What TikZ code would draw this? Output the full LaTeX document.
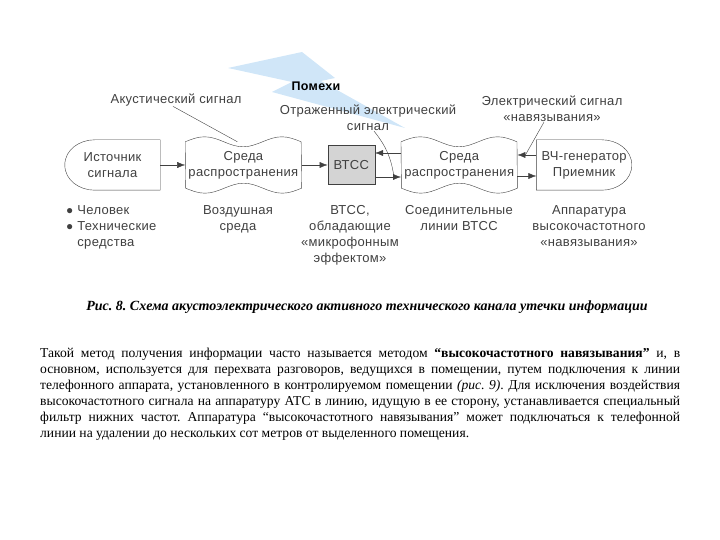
\documentclass[tikz,border=0pt]{standalone}
\usepackage{fontspec}
\setmainfont{Liberation Serif}
\newfontfamily\diagfont[LetterSpace=2.5]{Liberation Sans}
\usepackage{xcolor}
\definecolor{inkgray}{RGB}{64, 64, 64}
\definecolor{vtccgray}{RGB}{212, 212, 212}
\definecolor{boltblue}{RGB}{208, 230, 248}
\usepackage{tikz}
\usetikzlibrary{positioning, arrows.meta}
\frenchspacing

\begin{document}
\begin{tikzpicture}[x=1pt, y=1pt, node distance=25pt]

  \tikzstyle{diagtext} = [
    font=\diagfont\fontsize{13}{16}\selectfont,
    text=inkgray, align=center, inner sep=0pt
  ]
  \tikzstyle{shapebox} = [diagtext, minimum height=50pt]
  \tikzstyle{flow} = [-{Latex[length=8pt, width=6pt]}, draw=inkgray]
  \tikzstyle{pointer} = [draw=inkgray]

  \useasboundingbox (0,0) rectangle (720,540);

  \fill[boltblue] (228,472) -- (302,488) -- (335,462) -- (321,459)
    -- (405,412) -- (272,448) -- (292,458) -- cycle;

  \node[diagtext, text=black, font=\diagfont\bfseries\fontsize{12.5}{14}\selectfont] (noise)
    at (316,454) {Помехи};

  \node[shapebox, minimum width=95pt] (src) at (112.5,375)
    {Источник\\сигнала};
  \node[shapebox, minimum width=116pt, minimum height=46pt, right=25pt of src] (med1)
    {Среда\\распространения};
  \node[shapebox, minimum width=47pt, minimum height=39pt, right=26pt of med1,
        fill=vtccgray, draw=inkgray] (vtcc)
    {ВТСС};
  \node[shapebox, minimum width=116pt, minimum height=46pt, right=26pt of vtcc] (med2)
    {Среда\\распространения};
  \node[shapebox, minimum width=95pt, right=19pt of med2] (gen)
    {ВЧ-генератор\\Приемник};

  \draw[pointer] (src.north east) -- ([xshift=30pt]src.north west)
    to[out=180, in=90] (src.west) to[out=-90, in=180] ([xshift=30pt]src.south west)
    -- (src.south east) -- cycle;
  \draw[pointer] (gen.north west) -- ([xshift=-30pt]gen.north east)
    to[out=0, in=90] (gen.east) to[out=-90, in=0] ([xshift=-30pt]gen.south east)
    -- (gen.south west) -- cycle;
  \foreach \m in {med1, med2}
    \draw[pointer] (\m.north west)
      sin ++(19.33,5) cos ++(19.33,-5) sin ++(19.33,-5)
      cos ++(19.33,5) sin ++(19.33,5) cos ++(19.33,-5)
      -- (\m.south east)
      sin ++(-19.33,-5) cos ++(-19.33,5) sin ++(-19.33,5)
      cos ++(-19.33,-5) sin ++(-19.33,-5) cos ++(-19.33,5)
      -- cycle;

  \draw[flow] (src) -- (med1);
  \draw[flow] (med1) -- (vtcc);
  \draw[flow] ([yshift=12pt]med2.west) -- ([yshift=12pt]vtcc.east);
  \draw[flow] ([yshift=-12pt]vtcc.east) -- ([yshift=-12pt]med2.west);
  \draw[flow] ([yshift=10pt]gen.west) -- ([yshift=10pt]med2.east);
  \draw[flow] ([yshift=-11pt]med2.east) -- ([yshift=-11pt]gen.west);

  \node[diagtext] (acoustic) at (176,440) {Акустический сигнал};
  \node[diagtext] (refl) at (368,422) {Отраженный электрический\\сигнал};
  \node[diagtext] (elec) at (552,431) {Электрический сигнал\\«навязывания»};

  \draw[pointer] ([xshift=-3pt]acoustic.south) -- ([xshift=-6pt]med1.north);
  \draw[pointer] ([xshift=6pt]refl.south) to[bend left=15] ([xshift=-7pt, yshift=-12pt]med2.west);
  \draw[pointer] ([xshift=-8pt]elec.south) -- ([xshift=8pt, yshift=10pt]med2.east);

  \node[diagtext, align=left, anchor=north west] (lblsrc) at (66,335)
    {{\fontsize{12}{12}\selectfont ●}\ Человек\\
     {\fontsize{12}{12}\selectfont ●}\ Технические\\
     \hphantom{{\fontsize{12}{12}\selectfont ●}\ }средства};
  \node[diagtext, anchor=north] (lblair) at (238,335) {Воздушная\\среда};
  \node[diagtext, anchor=north] (lblvtcc) at (350,335)
    {ВТСС,\\обладающие\\«микрофонным\\эффектом»};
  \node[diagtext, anchor=north] (lblline) at (459,335) {Соединительные\\линии ВТСС};
  \node[diagtext, anchor=north] (lblgen) at (589,335)
    {Аппаратура\\высокочастотного\\«навязывания»};

  \node[font=\bfseries\itshape\fontsize{14}{16}\selectfont, inner sep=0pt] (caption)
    at (367,233)
    {Рис. 8. Схема акустоэлектрического активного технического канала утечки информации};

  \node[anchor=north west, text width=640pt, align=justify, inner sep=0pt,
        font=\fontsize{13.6}{16}\selectfont] (para) at (40,192)
    {Такой метод получения информации часто называется методом
     \textbf{“высокочастотного навязывания”} и, в\linebreak
     основном, используется для перехвата разговоров, ведущихся в помещении, путем подключения к линии\linebreak
     телефонного аппарата, установленного в контролируемом помещении \textit{(рис. 9)}. Для исключения воздействия\linebreak
     высокочастотного сигнала на аппаратуру АТС в линию, идущую в ее сторону, устанавливается специальный\linebreak
     фильтр нижних частот. Аппаратура “высокочастотного навязывания” может подключаться к телефонной\linebreak
     линии на удалении до нескольких сот метров от выделенного помещения.};

\end{tikzpicture}
\end{document}
